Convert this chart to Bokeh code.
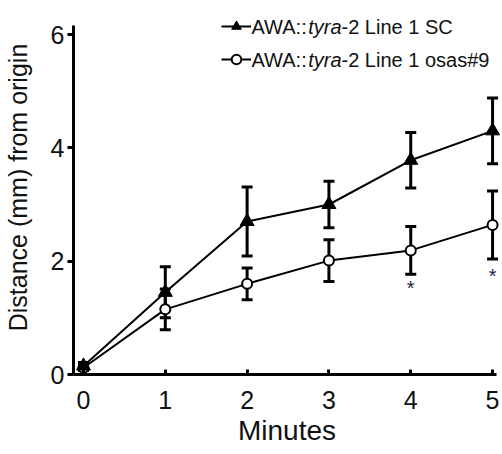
from bokeh.plotting import figure
from bokeh.models import (ColumnDataSource, Whisker, TeeHead, FixedTicker, Range1d,
                          Legend, LegendItem, Label)
from bokeh.core.properties import value
from bokeh.embed import file_html
from bokeh.resources import INLINE

# ---- data ----
minutes = [0, 1, 2, 3, 4, 5]
sc_mean = [0.15, 1.45, 2.70, 3.00, 3.78, 4.30]
sc_err = [0.06, 0.45, 0.61, 0.41, 0.49, 0.58]
osas_mean = [0.12, 1.15, 1.60, 2.01, 2.19, 2.64]
osas_err = [0.05, 0.36, 0.28, 0.37, 0.42, 0.60]
star_x = [4, 5]
star_y = [1.52, 1.74]
x_ticks = [0, 1, 2, 3, 4, 5]
y_ticks = [0, 2, 4, 6]
x_axis_bounds = (-0.122, 5.049)
y_axis_bounds = (0, 6.159)
legend_parts_sc = ["AWA::", "tyra", "-2 Line 1 SC"]
legend_parts_osas = ["AWA::", "tyra", "-2 Line 1 osas#9"]

FONT = "Liberation Sans"

sc = ColumnDataSource(dict(x=minutes, y=sc_mean,
                           upper=[m + e for m, e in zip(sc_mean, sc_err)],
                           lower=[m - e for m, e in zip(sc_mean, sc_err)]))
os_ = ColumnDataSource(dict(x=minutes, y=osas_mean,
                            upper=[m + e for m, e in zip(osas_mean, osas_err)],
                            lower=[m - e for m, e in zip(osas_mean, osas_err)]))

# frame spans up to the canvas top/right so the legend is not clipped;
# axis lines are limited with `bounds`
p = figure(width=500, height=454, output_backend="svg", toolbar_location=None,
           x_range=Range1d(-0.122, 5.097), y_range=Range1d(0, 6.6),
           min_border_left=71, min_border_right=0, min_border_top=0, min_border_bottom=80)
p.outline_line_color = None
p.xgrid.visible = False
p.ygrid.visible = False
p.background_fill_color = "white"
p.border_fill_color = "white"

# lines
l_sc = p.line("x", "y", source=sc, line_color="black", line_width=2)
l_os = p.line("x", "y", source=os_, line_color="black", line_width=2)

# error bars
for src in (os_, sc):
    w = Whisker(source=src, base="x", upper="upper", lower="lower", dimension="height",
                line_color="black", line_width=3,
                upper_head=TeeHead(size=11, line_width=3, line_color="black"),
                lower_head=TeeHead(size=11, line_width=3, line_color="black"))
    p.add_layout(w)

m_os = p.scatter("x", "y", source=os_, marker="circle", size=10, fill_color="white",
                 line_color="black", line_width=2)
m_sc = p.scatter("x", "y", source=sc, marker="triangle", size=14, fill_color="black",
                 line_color="black", line_width=1)

# significance stars
p.text(x=star_x, y=star_y, text=["*"] * len(star_x), text_font=value(FONT),
       text_font_size="20px", text_color="#26264d", text_align="center",
       text_baseline="middle")

# axes
for ax in (p.xaxis[0], p.yaxis[0]):
    ax.axis_line_width = 3
    ax.axis_line_color = "black"
    ax.major_tick_line_width = 3
    ax.major_tick_line_color = "black"
    ax.minor_tick_line_color = None
    ax.major_label_text_font = FONT
    ax.major_label_text_font_size = "25px"
    ax.major_label_text_color = "#111111"
    ax.axis_label_text_font = FONT
    ax.axis_label_text_font_style = "normal"
    ax.axis_label_text_color = "#111111"

p.xaxis.bounds = x_axis_bounds
p.yaxis.bounds = y_axis_bounds
p.xaxis.ticker = FixedTicker(ticks=x_ticks)
p.yaxis.ticker = FixedTicker(ticks=y_ticks)
p.xaxis.major_tick_in = 5
p.xaxis.major_tick_out = 0
p.yaxis.major_tick_in = 0
p.yaxis.major_tick_out = 6
p.xaxis.major_label_standoff = 16
p.yaxis.major_label_standoff = 3
p.xaxis.axis_label = "Minutes"
p.xaxis.axis_label_text_font_size = "28px"
p.xaxis.axis_label_standoff = 3
p.yaxis.axis_label = "Distance (mm) from origin"
p.yaxis.axis_label_text_font_size = "25px"
p.yaxis.axis_label_standoff = 16

# legend glyphs (text drawn separately for mixed italics)
legend = Legend(items=[LegendItem(label=" ", renderers=[l_sc, m_sc]),
                       LegendItem(label=" ", renderers=[l_os, m_os])],
                location=(148, 303), orientation="vertical",
                glyph_width=30, glyph_height=24, label_height=20, label_width=1,
                spacing=9, padding=0, margin=0, label_standoff=0,
                border_line_color=None, background_fill_alpha=0,
                label_text_font_size="1px")
p.add_layout(legend)

FS = 20
def legend_text(parts, x0, y_base):
    widths = [2.834, 1.667]
    x = x0
    for i, t in enumerate(parts):
        p.add_layout(Label(x=x, y=y_base, x_units="screen", y_units="screen", text=t,
                           text_font=FONT, text_font_size=f"{FS}px",
                           text_font_style="italic" if i == 1 else "normal",
                           text_color="#111111", text_baseline="alphabetic",
                           text_align="left"))
        if i < 2:
            x += widths[i] * FS

legend_text(legend_parts_sc, 178, 348)
legend_text(legend_parts_osas, 178, 315)

open("out.html", "w").write(file_html(p, INLINE))
